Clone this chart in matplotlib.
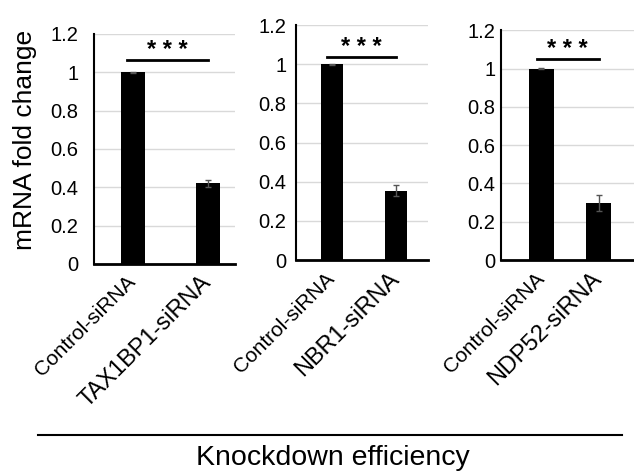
import matplotlib
matplotlib.use("Agg")
import matplotlib.pyplot as plt
from matplotlib.lines import Line2D

plt.rcParams['font.family'] = ['Liberation Sans', 'DejaVu Sans']

categories = [
    ["Control-siRNA", "TAX1BP1-siRNA"],
    ["Control-siRNA", "NBR1-siRNA"],
    ["Control-siRNA", "NDP52-siRNA"],
]
values = [[1.0, 0.42], [1.0, 0.355], [1.0, 0.30]]
errors = [[0.003, 0.02], [0.003, 0.03], [0.003, 0.042]]
sig_y = [1.065, 1.035, 1.05]
sig_text = "* * *"
yticks = [0, 0.2, 0.4, 0.6, 0.8, 1.0, 1.2]
ytick_labels = ["0", "0.2", "0.4", "0.6", "0.8", "1", "1.2"]

fig = plt.figure(figsize=(6.34, 4.72), dpi=100)
positions = [
    [0.148, 0.441, 0.222, 0.487],
    [0.467, 0.449, 0.208, 0.498],
    [0.790, 0.449, 0.210, 0.487],
]
xlims = [(-0.52, 1.36), (-0.56, 1.5), (-0.71, 1.62)]
widths = [0.32, 0.34, 0.44]
ypads = [11, 7, 4]

for i in range(3):
    ax = fig.add_axes(positions[i])
    x = [0, 1]
    ax.bar(x, values[i], width=widths[i], color='black', zorder=3)
    ax.errorbar(x, values[i], yerr=errors[i], fmt='none', ecolor='#555555',
                elinewidth=1, capsize=2.5, capthick=1, zorder=4)
    ax.set_ylim(0, 1.2)
    ax.set_xlim(*xlims[i])
    ax.set_yticks(yticks)
    ax.set_yticklabels(ytick_labels, fontsize=14.5)
    ax.yaxis.grid(True, color='#d9d9d9', linewidth=1, zorder=0)
    ax.set_axisbelow(True)
    ax.tick_params(axis='y', length=0, pad=ypads[i])
    ax.tick_params(axis='x', length=0, pad=11)
    ax.set_xticks(x)
    ax.set_xticklabels(categories[i], rotation=45, ha='right', va='center',
                       rotation_mode='anchor')
    for lbl, fs in zip(ax.get_xticklabels(), [15, 17]):
        lbl.set_fontsize(fs)
    for s in ['top', 'right']:
        ax.spines[s].set_visible(False)
    ax.spines['left'].set_linewidth(1.5)
    ax.spines['bottom'].set_linewidth(2)
    ax.plot([-0.08, 1.0], [sig_y[i], sig_y[i]], color='black', lw=2,
            clip_on=False, zorder=5)
    ax.text(0.46, sig_y[i] - 0.01, sig_text, ha='center', va='bottom',
            fontsize=17, fontweight='bold', zorder=5)

fig.text(25/634, 1 - 140/472, "mRNA fold change", rotation=90,
         ha='center', va='center', fontsize=19)

fig.add_artist(Line2D([38/634, 622/634], [1 - 435/472, 1 - 435/472],
                      color='black', lw=1.5, transform=fig.transFigure))
fig.text(333/634, 1 - 458/472, "Knockdown efficiency", ha='center',
         va='center', fontsize=20.5)

fig.savefig("out.png", dpi=100)
